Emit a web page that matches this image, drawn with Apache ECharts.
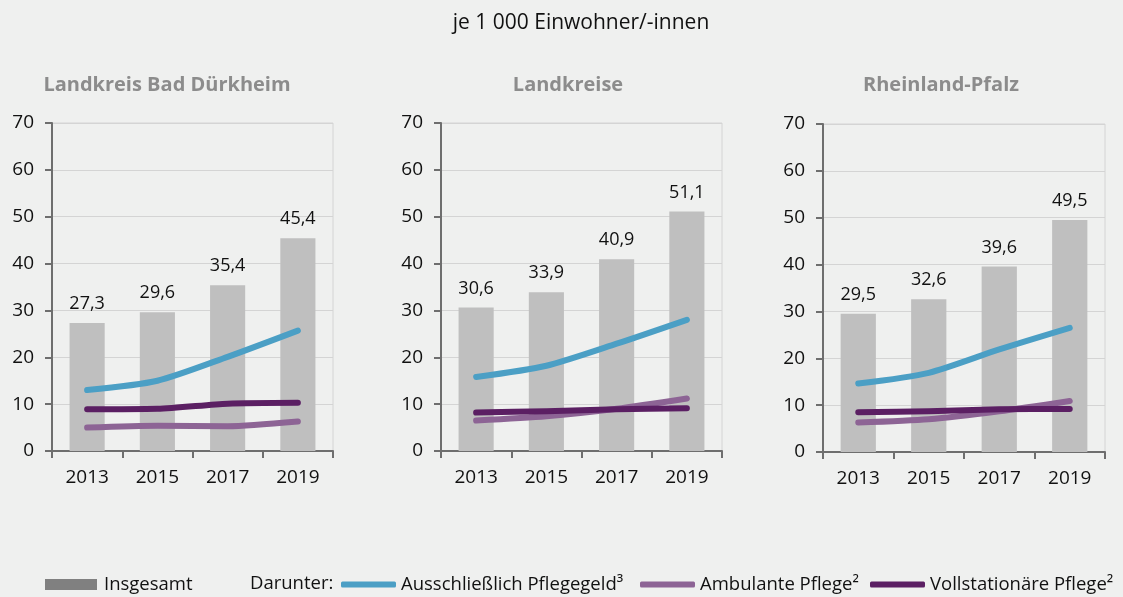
<!DOCTYPE html>
<html>
<head>
<meta charset="utf-8">
<script src="https://cdn.jsdelivr.net/npm/echarts@6/dist/echarts.min.js"></script>
<style>
  html, body { margin: 0; padding: 0; background: #eff0ef; }
  #chart { width: 1123px; height: 597px; }
</style>
</head>
<body>
<div id="chart"></div>
<script>
// Pflegebedürftige je 1 000 Einwohner/-innen
const years = ['2013', '2015', '2017', '2019'];
const panelTitles = ['Landkreis Bad Dürkheim', 'Landkreise', 'Rheinland-Pfalz'];

const totalDuerkheim = [27.3, 29.6, 35.4, 45.4];
const totalLandkreise = [30.6, 33.9, 40.9, 51.1];
const totalRlp = [29.5, 32.6, 39.6, 49.5];

const geldDuerkheim = [13.0, 15.0, 20.1, 25.7];
const geldLandkreise = [15.8, 18.2, 22.9, 28.0];
const geldRlp = [14.6, 16.9, 21.9, 26.5];

const ambulantDuerkheim = [5.0, 5.4, 5.3, 6.3];
const ambulantLandkreise = [6.5, 7.4, 9.0, 11.2];
const ambulantRlp = [6.3, 7.0, 8.7, 10.9];

const stationaerDuerkheim = [8.9, 9.0, 10.1, 10.3];
const stationaerLandkreise = [8.2, 8.5, 8.9, 9.1];
const stationaerRlp = [8.5, 8.7, 9.1, 9.2];

const yTicks = { min: 0, max: 70, interval: 10 };

const NAME_TOTAL = 'Insgesamt';
const NAME_GELD = 'Ausschließlich Pflegegeld³';
const NAME_AMB = 'Ambulante Pflege²';
const NAME_STAT = 'Vollstationäre Pflege²';

const totals = [totalDuerkheim, totalLandkreise, totalRlp];
const geld = [geldDuerkheim, geldLandkreise, geldRlp];
const ambulant = [ambulantDuerkheim, ambulantLandkreise, ambulantRlp];
const stationaer = [stationaerDuerkheim, stationaerLandkreise, stationaerRlp];

const FONT = '"Open Sans", "Noto Sans", sans-serif';
const C_BAR = '#bfbfbf';
const C_GELD = '#4b9fc5';
const C_AMB = '#8d6495';
const C_STAT = '#5b1f63';
const C_TEXT = '#111';

const grids = [
  { left: 52, width: 281, top: 123, height: 328 },
  { left: 441, width: 281, top: 123, height: 328 },
  { left: 823, width: 282, top: 124, height: 328 }
];
const titleCenters = [162, 563, 936];

const fmt = v => v.toFixed(1).replace('.', ',');

const legendText = { fontFamily: FONT, fontSize: 18.5, color: C_TEXT };
const lineLegend = (name, left) => ({
  data: [name], left, top: 570,
  icon: 'roundRect', itemWidth: 55, itemHeight: 6,
  textStyle: legendText
});

const option = {
  backgroundColor: '#eff0ef',
  textStyle: { fontFamily: FONT },
  title: [
    {
      text: 'je 1 000 Einwohner/-innen',
      left: 576, top: 8, textAlign: 'center',
      textStyle: { fontFamily: FONT, fontSize: 21, fontWeight: 'normal', color: C_TEXT }
    }
  ].concat(panelTitles.map((t, i) => ({
    text: t,
    left: titleCenters[i], top: 70,
    textAlign: 'center',
    textStyle: { fontFamily: FONT, fontSize: 20, fontWeight: 'bold', color: '#8c8c8c' }
  }))),
  legend: [
    {
      data: [NAME_TOTAL],
      left: 40, top: 570,
      icon: 'rect', itemWidth: 52, itemHeight: 11,
      textStyle: Object.assign({ padding: [0, 0, 0, 2] }, legendText),
      itemStyle: { color: '#808080' }
    },
    lineLegend(NAME_GELD, 336),
    lineLegend(NAME_AMB, 635),
    lineLegend(NAME_STAT, 865)
  ],
  graphic: [
    {
      type: 'text', left: 250, top: 574,
      style: { text: 'Darunter:', fontFamily: FONT, fontSize: 18.5, fill: C_TEXT }
    }
  ],
  grid: grids.map(g => Object.assign({
    show: true, borderColor: '#d4d4d4', borderWidth: 1, backgroundColor: 'transparent'
  }, g)),
  xAxis: grids.map((g, i) => ({
    type: 'category', gridIndex: i, data: years,
    axisLine: { lineStyle: { color: '#6e6e6e', width: 2 } },
    axisTick: { show: true, length: 7, lineStyle: { color: '#6e6e6e', width: 2 } },
    axisLabel: { fontFamily: FONT, fontSize: 19, color: C_TEXT, margin: 17 },
    splitLine: { show: false }
  })),
  yAxis: grids.map((g, i) => ({
    type: 'value', gridIndex: i,
    min: yTicks.min, max: yTicks.max, interval: yTicks.interval,
    axisLine: { show: true, lineStyle: { color: '#6e6e6e', width: 2 } },
    axisTick: { show: true, length: 7, lineStyle: { color: '#6e6e6e', width: 2 } },
    axisLabel: { fontFamily: FONT, fontSize: 19, color: C_TEXT, margin: 18 },
    splitLine: { show: true, lineStyle: { color: '#d4d4d4', width: 1 } }
  })),
  series: []
};

grids.forEach((g, i) => {
  option.series.push({
    name: NAME_TOTAL, type: 'bar', xAxisIndex: i, yAxisIndex: i,
    data: totals[i], barWidth: '50%',
    itemStyle: { color: C_BAR },
    label: {
      show: true, position: 'top', distance: 10,
      formatter: p => fmt(p.value),
      fontFamily: FONT, fontSize: 18, color: C_TEXT
    },
    z: 2
  });
  const lineDefs = [
    [NAME_STAT, stationaer[i], C_STAT, 4],
    [NAME_AMB, ambulant[i], C_AMB, 3],
    [NAME_GELD, geld[i], C_GELD, 5]
  ];
  lineDefs.forEach(([name, data, color, z]) => {
    option.series.push({
      name, type: 'line', xAxisIndex: i, yAxisIndex: i,
      data, smooth: 0.25, symbol: 'none',
      lineStyle: { color, width: 6, cap: 'round', join: 'round' },
      itemStyle: { color },
      z
    });
  });
});

const chart = echarts.init(document.getElementById('chart'), null, { renderer: 'canvas' });
chart.setOption(option);
</script>
</body>
</html>
